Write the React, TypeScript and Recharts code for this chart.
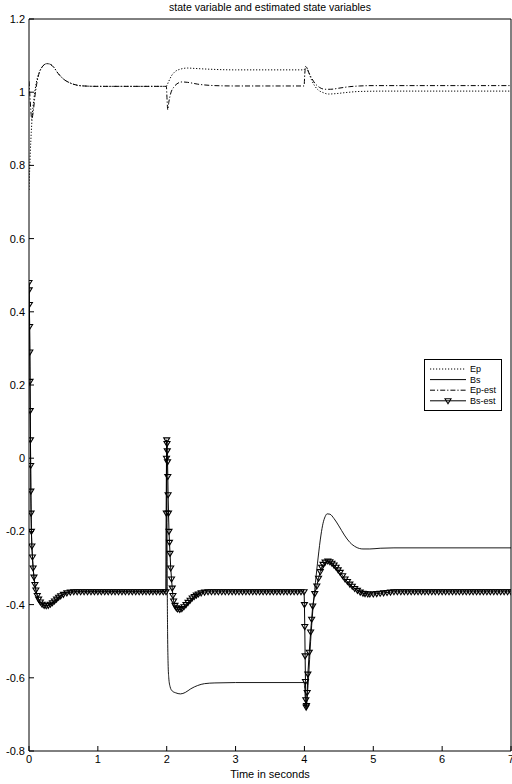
import React from 'react';
import { LineChart, Line, XAxis, YAxis, Legend, Label } from 'recharts';

// axis ticks
const xTicks = [0, 1, 2, 3, 4, 5, 6, 7];
const yTicks = [-0.8, -0.6, -0.4, -0.2, 0, 0.2, 0.4, 0.6, 0.8, 1, 1.2];

const seriesNames = ['Ep', 'Bs', 'Ep-est', 'Bs-est'];

// [time, value] pairs
const epPts: [number, number][] = [
  [0, 0.733], [0.01, 0.79], [0.02, 0.84], [0.033, 0.89], [0.045, 0.93], [0.07, 0.98], [0.1, 1.02],
  [0.15, 1.055], [0.2, 1.071], [0.26, 1.078], [0.3, 1.077], [0.36, 1.068], [0.42, 1.052],
  [0.5, 1.036], [0.6, 1.025], [0.7, 1.019], [0.8, 1.017], [1.0, 1.016], [1.99, 1.016],
  [2.03, 1.03], [2.07, 1.045], [2.12, 1.056], [2.2, 1.063], [2.3, 1.066], [2.4, 1.065],
  [2.6, 1.063], [3.0, 1.061], [3.995, 1.061], [4.01, 1.068], [4.02, 1.071], [4.05, 1.06],
  [4.1, 1.035], [4.15, 1.017], [4.2, 1.006], [4.27, 0.999], [4.35, 0.995], [4.45, 0.996],
  [4.6, 0.999], [4.8, 1.002], [5.2, 1.003], [7, 1.003],
];

const epEstPts: [number, number][] = [
  [0, 1.03], [0.01, 1.0], [0.025, 0.955], [0.04, 0.925], [0.06, 0.945], [0.09, 0.995],
  [0.13, 1.04], [0.18, 1.066], [0.22, 1.075], [0.26, 1.078], [0.3, 1.077], [0.36, 1.068],
  [0.42, 1.052], [0.5, 1.036], [0.6, 1.025], [0.7, 1.019], [0.8, 1.017], [1.0, 1.016],
  [1.995, 1.016], [2.005, 0.98], [2.015, 0.952], [2.03, 0.972], [2.06, 0.998], [2.1, 1.013],
  [2.15, 1.023], [2.22, 1.028], [2.3, 1.027], [2.45, 1.022], [2.7, 1.018], [3.0, 1.017],
  [3.995, 1.017], [4.005, 1.05], [4.015, 1.066], [4.025, 1.069], [4.06, 1.055], [4.1, 1.04],
  [4.15, 1.025], [4.22, 1.013], [4.3, 1.008], [4.38, 1.008], [4.5, 1.011], [4.65, 1.015],
  [4.8, 1.017], [5.0, 1.018], [7, 1.018],
];

const bsPts: [number, number][] = [
  [0, 0.48], [0.009, 0.36], [0.018, 0.13], [0.027, -0.09], [0.035, -0.2], [0.05, -0.27],
  [0.072, -0.325], [0.1, -0.36], [0.14, -0.385], [0.19, -0.399], [0.25, -0.403], [0.31, -0.399],
  [0.37, -0.39], [0.43, -0.38], [0.5, -0.372], [0.6, -0.366], [0.7, -0.365], [1.99, -0.365],
  [1.994, -0.15], [1.997, 0.0], [2.0, 0.05], [2.004, -0.15], [2.008, -0.35], [2.013, -0.48],
  [2.02, -0.56], [2.03, -0.6], [2.05, -0.625], [2.08, -0.636], [2.13, -0.641], [2.2, -0.644],
  [2.27, -0.64], [2.35, -0.63], [2.45, -0.621], [2.55, -0.616], [2.7, -0.614], [3.0, -0.613],
  [3.995, -0.613], [4.005, -0.632], [4.012, -0.656], [4.02, -0.678], [4.03, -0.674],
  [4.045, -0.64], [4.06, -0.6], [4.09, -0.5], [4.12, -0.42], [4.16, -0.34], [4.2, -0.27],
  [4.24, -0.21], [4.27, -0.178], [4.3, -0.16], [4.33, -0.152], [4.37, -0.153], [4.43, -0.165],
  [4.5, -0.185], [4.58, -0.21], [4.66, -0.23], [4.75, -0.243], [4.85, -0.248], [4.95, -0.248],
  [5.1, -0.246], [5.3, -0.245], [7, -0.245],
];

const bsEstPts: [number, number][] = [
  [0, 0.48], [0.003, 0.46], [0.006, 0.42], [0.009, 0.36], [0.012, 0.29], [0.015, 0.21],
  [0.018, 0.13], [0.021, 0.05], [0.024, -0.02], [0.027, -0.09], [0.03, -0.15], [0.035, -0.2],
  [0.042, -0.24], [0.05, -0.27], [0.06, -0.3], [0.072, -0.325], [0.086, -0.345], [0.1, -0.36],
  [0.12, -0.375], [0.14, -0.385], [0.165, -0.393], [0.19, -0.399], [0.22, -0.402],
  [0.25, -0.403], [0.28, -0.402], [0.31, -0.399], [0.34, -0.395], [0.37, -0.39], [0.4, -0.385],
  [0.43, -0.38], [0.46, -0.376], [0.5, -0.372], [0.55, -0.368], [0.6, -0.366], [0.65, -0.365],
  [0.7, -0.365], [0.75, -0.365], [0.8, -0.365], [0.85, -0.365], [0.9, -0.365], [0.95, -0.365],
  [1.0, -0.365], [1.05, -0.365], [1.1, -0.365], [1.15, -0.365], [1.2, -0.365], [1.25, -0.365],
  [1.3, -0.365], [1.35, -0.365], [1.4, -0.365], [1.45, -0.365], [1.5, -0.365], [1.55, -0.365],
  [1.6, -0.365], [1.65, -0.365], [1.7, -0.365], [1.75, -0.365], [1.8, -0.365], [1.85, -0.365],
  [1.9, -0.365], [1.95, -0.365], [1.99, -0.365],
  [1.994, -0.15], [1.997, 0.0], [2.0, 0.05], [2.004, 0.04], [2.008, 0.02], [2.012, -0.01],
  [2.016, -0.05], [2.02, -0.1], [2.026, -0.15], [2.033, -0.2], [2.04, -0.23], [2.048, -0.26],
  [2.058, -0.3], [2.07, -0.33], [2.08, -0.355], [2.09, -0.375], [2.1, -0.39], [2.12, -0.402],
  [2.14, -0.409], [2.16, -0.412], [2.19, -0.413], [2.22, -0.411], [2.25, -0.406], [2.28, -0.4],
  [2.31, -0.394], [2.34, -0.388], [2.37, -0.382], [2.4, -0.378], [2.43, -0.374], [2.46, -0.371],
  [2.5, -0.368], [2.55, -0.366], [2.6, -0.365], [2.65, -0.365], [2.7, -0.365], [2.75, -0.365],
  [2.8, -0.365], [2.85, -0.365], [2.9, -0.365], [2.95, -0.365], [3.0, -0.365], [3.05, -0.365],
  [3.1, -0.365], [3.15, -0.365], [3.2, -0.365], [3.25, -0.365], [3.3, -0.365], [3.35, -0.365],
  [3.4, -0.365], [3.45, -0.365], [3.5, -0.365], [3.55, -0.365], [3.6, -0.365], [3.65, -0.365],
  [3.7, -0.365], [3.75, -0.365], [3.8, -0.365], [3.85, -0.365], [3.9, -0.365], [3.95, -0.365],
  [3.995, -0.365],
  [4.0, -0.4], [4.005, -0.46], [4.01, -0.54], [4.015, -0.61], [4.02, -0.66], [4.025, -0.68],
  [4.03, -0.676], [4.04, -0.64], [4.05, -0.59], [4.07, -0.53], [4.09, -0.475], [4.105, -0.44],
  [4.12, -0.404], [4.15, -0.37], [4.18, -0.349], [4.205, -0.328], [4.23, -0.31], [4.25, -0.298],
  [4.27, -0.29], [4.3, -0.284], [4.34, -0.281], [4.37, -0.283], [4.4, -0.287], [4.43, -0.292],
  [4.46, -0.298], [4.49, -0.305], [4.52, -0.312], [4.555, -0.321], [4.59, -0.33], [4.625, -0.337],
  [4.66, -0.344], [4.695, -0.35], [4.73, -0.356], [4.77, -0.361], [4.81, -0.366], [4.85, -0.369],
  [4.88, -0.37], [4.92, -0.371], [4.95, -0.371], [5.0, -0.371], [5.05, -0.37], [5.1, -0.369],
  [5.15, -0.368], [5.2, -0.367], [5.25, -0.366], [5.3, -0.365], [5.35, -0.365], [5.4, -0.365],
  [5.45, -0.365], [5.5, -0.365], [5.55, -0.365], [5.6, -0.365], [5.65, -0.365], [5.7, -0.365],
  [5.75, -0.365], [5.8, -0.365], [5.85, -0.365], [5.9, -0.365], [5.95, -0.365], [6.0, -0.365],
  [6.05, -0.365], [6.1, -0.365], [6.15, -0.365], [6.2, -0.365], [6.25, -0.365], [6.3, -0.365],
  [6.35, -0.365], [6.4, -0.365], [6.45, -0.365], [6.5, -0.365], [6.55, -0.365], [6.6, -0.365],
  [6.65, -0.365], [6.7, -0.365], [6.75, -0.365], [6.8, -0.365], [6.85, -0.365], [6.9, -0.365],
  [6.95, -0.365], [7.0, -0.365],
];

const toRows = (pts: [number, number][]) => pts.map(([t, v]) => ({ t, v }));

const FONT = '"Liberation Sans", Arial, Helvetica, sans-serif';

// small down-pointing triangle, like matlab's 'v' marker
const Tri = ({ cx, cy }: { cx: number; cy: number }) => (
  <path
    d={`M${cx - 3},${cy - 2}L${cx + 3},${cy - 2}L${cx},${cy + 3}Z`}
    fill="none"
    stroke="#000"
    strokeWidth={1.1}
  />
);

const renderTri = (props: any) => {
  const { cx, cy, index } = props;
  if (cx == null || cy == null) return <g key={`tri-${index}`} />;
  return <Tri key={`tri-${index}`} cx={cx} cy={cy} />;
};

// ticks point inwards (matlab style)
const BottomTick = ({ x, y, payload }: any) => (
  <g>
    <line x1={x} y1={y} x2={x} y2={y - 5} stroke="#000" />
    <text x={x} y={y + 12} textAnchor="middle" fontSize={11} fill="#000" fontFamily={FONT}>
      {payload.value}
    </text>
  </g>
);

const TopTick = ({ x, y }: any) => <line x1={x} y1={y} x2={x} y2={y + 5} stroke="#000" />;

const LeftTick = ({ x, y, payload }: any) => (
  <g>
    <line x1={x} y1={y} x2={x + 5} y2={y} stroke="#000" />
    <text x={x - 4} y={y + 4} textAnchor="end" fontSize={11} fill="#000" fontFamily={FONT}>
      {payload.value}
    </text>
  </g>
);

const RightTick = ({ x, y }: any) => <line x1={x} y1={y} x2={x - 5} y2={y} stroke="#000" />;

const lineDash: Record<string, string | undefined> = {
  Ep: '1.2 1.8',
  Bs: undefined,
  'Ep-est': '5 2 1.2 2',
  'Bs-est': undefined,
};

const LegendBox = () => (
  <svg width={78} height={52} style={{ display: 'block' }}>
    <rect x={0.5} y={0.5} width={77} height={51} fill="#fff" stroke="#000" />
    {seriesNames.map((name, i) => {
      const y = 10 + i * 10.6;
      return (
        <g key={name}>
          <line x1={6} x2={42} y1={y} y2={y} stroke="#000" strokeDasharray={lineDash[name]} />
          {name === 'Bs-est' && <Tri cx={24} cy={y} />}
          <text x={46} y={y + 3} fontSize={9} fill="#000" fontFamily={FONT}>
            {name}
          </text>
        </g>
      );
    })}
  </svg>
);

const App: React.FC = () => {
  return (
    <div style={{ position: 'absolute', left: 0, top: 0, width: 512, height: 784, background: '#fff' }}>
      <LineChart width={512} height={784} margin={{ top: 18, right: 0, bottom: 32, left: 28 }}>
        <XAxis
          dataKey="t"
          type="number"
          domain={[0, 7]}
          ticks={xTicks}
          interval={0}
          allowDataOverflow
          height={1}
          tickSize={0}
          tickMargin={0}
          tickLine={false}
          axisLine={{ stroke: '#000' }}
          tick={<BottomTick />}
        >
          <Label
            value="Time in seconds"
            position="bottom"
            offset={18}
            fontSize={11}
            fill="#000"
            fontFamily={FONT}
          />
        </XAxis>
        <XAxis
          xAxisId="top"
          orientation="top"
          dataKey="t"
          type="number"
          domain={[0, 7]}
          ticks={xTicks}
          interval={0}
          height={1}
          tickSize={0}
          tickMargin={0}
          tickLine={false}
          axisLine={{ stroke: '#000' }}
          tick={<TopTick />}
        >
          <Label
            value="state variable and estimated state variables"
            position="top"
            offset={7}
            fontSize={10.5}
            fill="#000"
            fontFamily={FONT}
          />
        </XAxis>
        <YAxis
          type="number"
          domain={[-0.8, 1.2]}
          ticks={yTicks}
          interval={0}
          allowDataOverflow
          width={1}
          tickSize={0}
          tickMargin={0}
          tickLine={false}
          axisLine={{ stroke: '#000' }}
          tick={<LeftTick />}
        />
        <YAxis
          yAxisId="right"
          orientation="right"
          type="number"
          domain={[-0.8, 1.2]}
          ticks={yTicks}
          interval={0}
          width={1}
          tickSize={0}
          tickMargin={0}
          tickLine={false}
          axisLine={{ stroke: '#000' }}
          tick={<RightTick />}
        />
        <Legend
          layout="horizontal"
          verticalAlign="middle"
          align="center"
          content={<LegendBox />}
          wrapperStyle={{ left: 424, top: 359, width: 78, height: 52 }}
        />
        <Line
          name="Ep"
          data={toRows(epPts)}
          dataKey="v"
          type="monotone"
          stroke="#000"
          strokeWidth={1}
          strokeDasharray={lineDash.Ep}
          dot={false}
          activeDot={false}
          isAnimationActive={false}
        />
        <Line
          name="Bs"
          data={toRows(bsPts)}
          dataKey="v"
          type="monotone"
          stroke="#000"
          strokeWidth={0.9}
          dot={false}
          activeDot={false}
          isAnimationActive={false}
        />
        <Line
          name="Ep-est"
          data={toRows(epEstPts)}
          dataKey="v"
          type="monotone"
          stroke="#000"
          strokeWidth={1}
          strokeDasharray={lineDash['Ep-est']}
          dot={false}
          activeDot={false}
          isAnimationActive={false}
        />
        <Line
          name="Bs-est"
          data={toRows(bsEstPts)}
          dataKey="v"
          type="linear"
          stroke="#000"
          strokeWidth={1}
          dot={renderTri}
          activeDot={false}
          isAnimationActive={false}
        />
      </LineChart>
    </div>
  );
};

export default App;
